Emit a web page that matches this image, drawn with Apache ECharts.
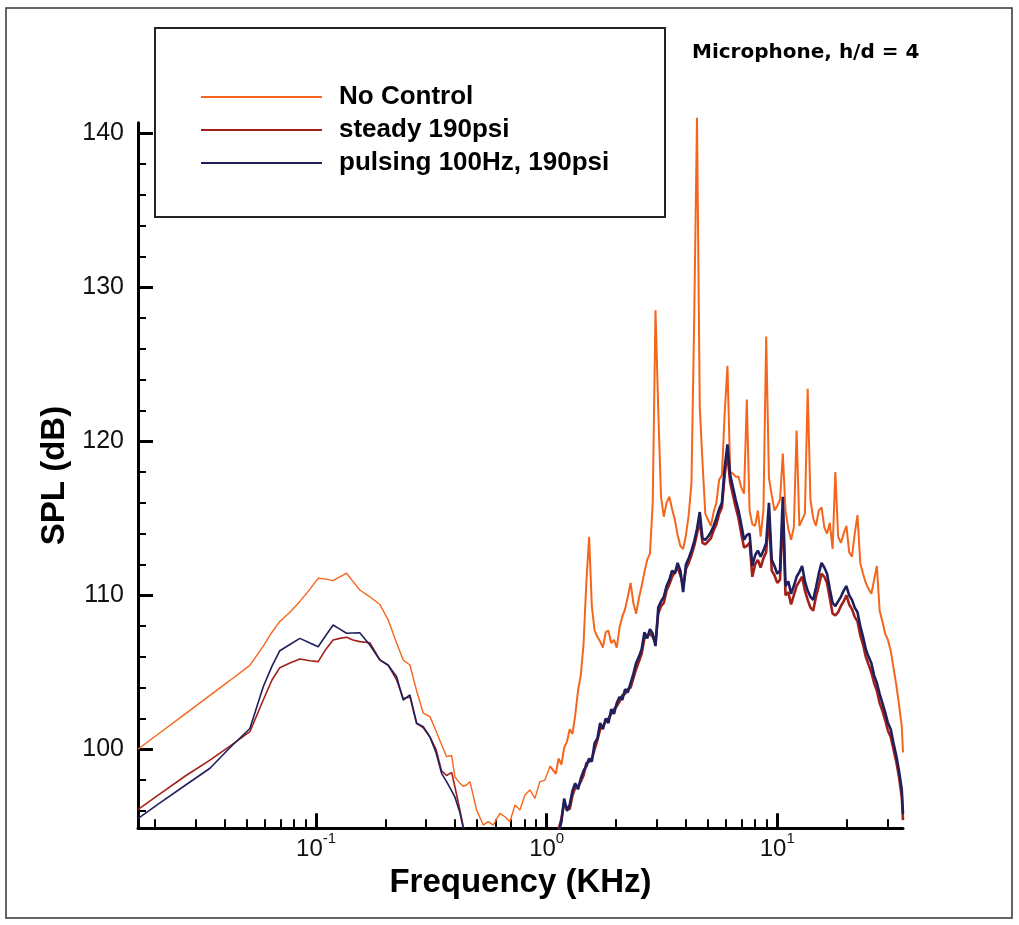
<!DOCTYPE html>
<html><head><meta charset="utf-8">
<script src="https://cdn.jsdelivr.net/npm/echarts@6/dist/echarts.min.js"></script>
<style>html,body{margin:0;padding:0;background:#fff}#c{width:1019px;height:925px}</style>
</head><body><div id="c"></div>
<script>
// ---------------- DATA ----------------
const seriesNames = ['No Control', 'steady 190psi', 'pulsing 100Hz, 190psi'];
const titleText = 'Microphone, h/d = 4';
const xTitle = 'Frequency (KHz)';
const yTitle = 'SPL (dB)';

// frequency grid, KHz (low band, shared)
const freqLow = [0.01688,0.02104,0.02701,0.03467,0.04231,0.05165,0.05902,0.06441,0.06966,0.0770,
  0.08511,0.09408,0.1021,0.1104,0.1186,0.1268,0.1356,0.1445,0.1548,0.1711,
  0.1891,0.2055,0.2235,0.2388,0.2553,0.2729,0.2917,0.3118,0.3311,0.3503,
  0.3681,0.3873,0.4000,0.4204,0.4348,0.4498,0.4648,0.4968,0.5309,0.558,
  0.5865,0.627,0.659,0.693,0.729,0.766,0.805,0.846,0.890,0.935,0.983,1.034];
// frequency grid, KHz (high band, shared)
const freqHigh = [1.096,1.127,1.159,1.191,1.225,1.259,1.294,1.330,1.368,1.406,
  1.445,1.486,1.528,1.570,1.614,1.660,1.706,1.754,1.803,1.854,
  1.905,1.959,2.014,2.070,2.128,2.188,2.249,2.312,2.377,2.443,
  2.512,2.582,2.655,2.729,2.805,2.884,2.965,3.048,3.133,3.221,
  3.311,3.404,3.499,3.597,3.698,3.802,3.908,4.018,4.130,4.246,
  4.365,4.487,4.613,4.742,4.875,5.012,5.152,5.297,5.445,5.598,
  5.754,5.916,6.081,6.252,6.427,6.607,6.792,6.982,7.178,7.379,
  7.586,7.798,8.017,8.241,8.472,8.710,8.954,9.204,9.462,9.727,
  10.00,10.28,10.57,10.86,11.17,11.48,11.80,12.13,12.47,12.82,
  13.18,13.55,13.93,14.32,14.72,15.14,15.56,16.00,16.44,16.90,
  17.38,17.86,18.37,18.88,19.41,19.95,20.51,21.09,21.68,22.28,
  22.91,23.55,24.21,24.89,25.59,26.30,27.04,27.80,28.58,29.38,
  30.20,31.05,31.92,32.81,33.73,34.67,35.1];

// SPL (dB)
const noControlLow = [100.0,101.07,102.28,103.5,104.47,105.45,106.7,107.6,108.3,108.9,
  109.6,110.4,111.1,111.05,110.95,111.2,111.43,110.9,110.34,109.9,
  109.4,108.4,106.9,105.8,105.47,103.8,102.34,102.12,101.2,100.3,
  99.52,99.6,98.2,97.8,97.6,97.68,97.9,96.06,95.08,95.3,
  95.08,95.84,95.62,95.3,96.38,96.06,97.03,97.36,96.82,97.9,98.0,98.9];
const noControlHigh = [98.4,99.4,99.0,100.1,100.5,101.3,101.0,102.2,103.8,104.8,
  106.8,110.8,113.8,109.3,107.7,107.3,107.0,106.6,107.6,107.7,
  106.9,107.1,106.6,107.9,108.6,109.1,109.9,110.8,109.5,108.8,
  109.8,110.6,111.5,112.3,112.7,116.0,128.5,122.0,116.4,115.1,
  116.0,116.4,115.6,114.9,113.9,113.2,113.0,113.9,115.2,117.3,
  128.1,141.0,122.2,118.6,115.3,114.9,114.5,115.4,116.0,117.5,
  117.8,121.8,124.9,118.0,117.9,117.7,117.7,117.0,116.6,122.7,
  115.5,114.6,114.5,115.5,113.8,115.5,126.8,117.6,116.5,115.5,
  115.8,116.2,119.2,115.5,114.3,113.6,114.4,120.7,114.5,114.9,
  115.3,123.4,116.2,115.0,114.5,115.5,115.7,114.4,114.0,114.7,
  113.0,118.0,113.8,113.4,114.0,114.5,112.8,112.5,114.0,115.2,
  112.1,111.4,110.8,110.4,110.1,111.0,111.9,109.0,108.3,107.5,
  107.1,106.4,105.3,104.2,102.9,101.5,99.8];

const steadyLow = [96.08,97.1,98.25,99.3,100.2,101.14,103.2,104.5,105.3,105.6,
  105.86,105.75,105.69,106.5,107.1,107.2,107.27,107.1,106.99,106.92,
  105.8,105.47,104.5,103.3,103.4,101.69,101.4,100.8,100.0,98.6,
  98.3,98.5,97.57,96.06,94.97,94.0,93.5,null,null,null,
  null,null,null,null,null,null,null,null,null,null,null,null];
const steadyHigh = [94.2,94.8,95.5,96.5,96.2,96.1,97.0,97.5,97.6,97.9,
  98.3,99.1,99.2,99.4,100.0,100.6,101.3,101.5,101.8,102.0,
  102.3,102.6,102.8,103.1,103.5,103.6,103.9,104.0,104.6,105.2,
  105.7,106.2,107.2,107.4,107.5,107.3,106.9,108.8,109.3,109.5,
  110.3,110.7,111.2,111.5,111.8,111.3,110.6,111.7,112.1,112.6,
  113.2,114.0,114.8,113.4,113.3,113.5,113.7,114.2,114.6,115.3,
  115.7,117.8,119.2,117.3,116.5,115.7,115.0,114.0,113.1,113.2,
  113.4,111.2,112.0,112.3,111.8,112.4,112.8,115.2,111.6,111.3,
  110.8,111.0,115.5,110.0,110.2,109.4,110.0,110.6,110.9,111.2,
  110.3,109.7,109.2,109.0,109.9,110.6,111.4,111.2,110.8,109.8,
  108.8,108.7,108.9,109.3,109.6,110.0,109.4,109.1,108.6,108.3,
  107.4,106.8,106.0,105.5,105.0,104.3,103.8,103.0,102.5,101.9,
  101.2,100.8,100.0,99.2,98.2,96.9,95.4];

const pulsingLow = [95.5,96.52,97.65,98.77,100.1,101.35,104.06,105.4,106.4,106.8,
  107.2,106.9,106.66,107.4,108.07,107.8,107.53,107.55,107.57,106.77,
  105.8,105.45,104.71,103.2,103.53,101.69,101.47,100.8,99.8,98.44,
  97.9,97.3,96.9,95.9,94.9,94.0,null,null,null,null,
  null,null,null,null,null,null,null,null,null,null,null,null];
const pulsingHigh = [94.0,94.6,95.3,96.8,96.0,96.4,97.3,97.8,97.4,98.1,
  98.6,98.9,99.4,99.2,100.4,100.7,101.7,101.3,102.0,101.7,
  102.6,102.3,103.0,103.4,103.2,103.9,103.7,104.3,104.9,105.6,
  106.0,106.5,107.6,107.2,107.8,107.5,106.7,109.2,109.6,109.9,
  110.6,111.0,111.6,111.4,112.1,111.6,110.2,112.0,112.4,112.9,
  113.5,114.3,115.4,113.7,113.6,113.8,114.1,114.5,115.0,115.6,
  116.0,118.3,119.8,117.8,117.0,116.2,115.5,114.6,113.6,113.9,
  114.0,111.9,112.6,112.9,112.5,112.9,113.4,116.0,112.3,111.9,
  111.4,111.6,116.4,110.6,110.9,110.1,110.6,111.2,111.5,111.9,
  110.9,110.3,109.9,109.7,110.5,111.4,112.1,111.8,111.4,110.4,
  109.5,109.3,109.6,109.9,110.3,110.6,110.0,109.7,109.2,108.9,
  108.0,107.3,106.5,106.0,105.6,104.8,104.3,103.6,103.0,102.4,
  101.7,101.3,100.4,99.6,98.6,97.4,95.8];

// axes
const xMin = 0.0169, xMax = 35.1;
const yMin = 94.87, yMax = 140.68;
const xMajorTicks = [0.1, 1, 10];
const xMinorTicks = [0.02,0.03,0.04,0.05,0.06,0.07,0.08,0.09,0.2,0.3,0.4,0.5,0.6,0.7,0.8,0.9,2,3,4,5,6,7,8,9,20,30];
const yMajorTicks = [100, 110, 120, 130, 140];
const yMinorTicks = [96,98,102,104,106,108,112,114,116,118,122,124,126,128,132,134,136,138];

// ---------------- CHART ----------------
function pairs(f, v) { return f.map((x, i) => [x, v[i]]); }
// high band series start from the last low-band point so the curve is continuous
function highPairs(low, high) {
  const p = pairs(freqHigh, high);
  const last = low[low.length - 1];
  return (last == null ? [] : [[freqLow[freqLow.length - 1], last]]).concat(p);
}

const colors = ['#f5661c', '#a3201a', '#1f1f5e'];
const sans = 'Liberation Sans, Arial, Helvetica, sans-serif';
const lowW = [1.4, 1.6, 1.6];
const highW = [2.0, 2.6, 2.6];
const lowVals = [noControlLow, steadyLow, pulsingLow];
const highVals = [noControlHigh, steadyHigh, pulsingHigh];

const series = [];
for (let i = 0; i < 3; i++) {
  const common = { name: seriesNames[i], type: 'line', symbol: 'none', clip: i !== 0,
    itemStyle: { color: colors[i] } };
  series.push(Object.assign({}, common, { data: pairs(freqLow, lowVals[i]),
    lineStyle: { width: lowW[i], color: colors[i] }, z: 2 + i }));
  series.push(Object.assign({}, common, { data: highPairs(lowVals[i], highVals[i]),
    lineStyle: { width: highW[i], color: colors[i] }, z: 2 + i }));
}

const chart = echarts.init(document.getElementById('c'), null, { renderer: 'canvas' });
chart.setOption({
  animation: false,
  backgroundColor: '#ffffff',
  color: colors,
  title: {
    text: titleText, left: 687, top: 38,
    textStyle: { fontFamily: 'DejaVu Sans', fontWeight: 'bold', fontSize: 20, color: '#000' }
  },
  legend: {
    orient: 'vertical', left: 196, top: 79,
    icon: 'rect', itemWidth: 121, itemHeight: 2, itemGap: 7,
    data: seriesNames,
    textStyle: { fontFamily: sans, fontWeight: 'bold', fontSize: 26, lineHeight: 26, color: '#000', padding: [0, 0, 0, 12] }
  },
  grid: { left: 138, right: 116, top: 122.7, bottom: 96.7, containLabel: false },
  xAxis: [
    {
      type: 'log', logBase: 10, min: xMin, max: xMax,
      name: xTitle, nameLocation: 'middle', nameGap: 27,
      nameTextStyle: { fontFamily: sans, fontWeight: 'bold', fontSize: 33, color: '#000' },
      axisLine: { show: true, lineStyle: { color: '#000', width: 3 } },
      axisTick: { show: true, inside: true, length: 15, lineStyle: { color: '#000', width: 3 }, customValues: xMajorTicks },
      axisLabel: {
        customValues: xMajorTicks, margin: 3,
        formatter: v => '{b|10}{s|' + Math.round(Math.log10(v)) + '}',
        rich: {
          b: { fontFamily: sans, fontSize: 24, lineHeight: 30, verticalAlign: 'bottom', color: '#111' },
          s: { fontFamily: sans, fontSize: 15, lineHeight: 15, verticalAlign: 'top', color: '#111' }
        }
      },
      splitLine: { show: false }
    },
    {
      type: 'log', logBase: 10, min: xMin, max: xMax, position: 'bottom', gridIndex: 0,
      axisLine: { show: false },
      axisTick: { show: true, inside: true, length: 9, lineStyle: { color: '#000', width: 2 }, customValues: xMinorTicks },
      axisLabel: { show: false },
      splitLine: { show: false }
    }
  ],
  yAxis: [
    {
      type: 'value', min: yMin, max: yMax,
      name: yTitle, nameLocation: 'middle', nameGap: 50, nameRotate: 90,
      nameTextStyle: { fontFamily: sans, fontWeight: 'bold', fontSize: 33, color: '#000' },
      axisLine: { show: true, lineStyle: { color: '#000', width: 3 } },
      axisTick: { show: true, inside: true, length: 15, lineStyle: { color: '#000', width: 3 }, customValues: yMajorTicks },
      axisLabel: { customValues: yMajorTicks, margin: 14, fontFamily: sans, fontSize: 25, color: '#111' },
      splitLine: { show: false }
    },
    {
      type: 'value', min: yMin, max: yMax, position: 'left', gridIndex: 0,
      axisLine: { show: false },
      axisTick: { show: true, inside: true, length: 8, lineStyle: { color: '#000', width: 2 }, customValues: yMinorTicks },
      axisLabel: { show: false },
      splitLine: { show: false }
    }
  ],
  graphic: [
    { type: 'rect', shape: { x: 6, y: 8, width: 1006, height: 910 }, style: { fill: 'none', stroke: '#333', lineWidth: 1.5 }, z: -1 },
    { type: 'rect', shape: { x: 155, y: 28, width: 510, height: 189 }, style: { fill: 'none', stroke: '#222', lineWidth: 2 }, z: 1 }
  ],
  series: series
});
</script>
</body></html>
